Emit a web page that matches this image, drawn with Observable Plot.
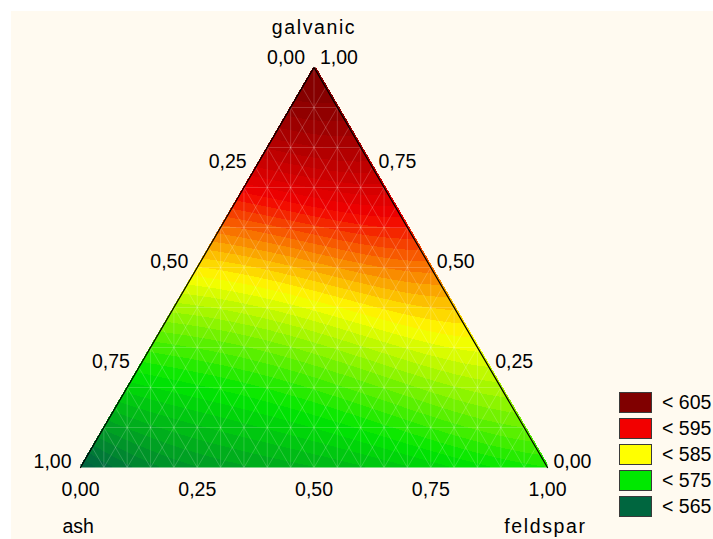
<!DOCTYPE html>
<html><head><meta charset="utf-8">
<script src="https://cdn.jsdelivr.net/npm/d3@7"></script>
<script src="https://cdn.jsdelivr.net/npm/@observablehq/plot@0.6"></script>
<style>
body{margin:0;background:#fff;font-family:"Liberation Sans",Arial,sans-serif;}
#wrap{position:relative;width:713px;height:539px;background:#fff;overflow:hidden}
#panel{position:absolute;left:11px;top:11px;width:702px;height:528px;background:#fffaf0}
#chart{position:absolute;left:0;top:0}
#legend{position:absolute;left:619px;top:392px}
.item{position:relative;height:26px;width:90px}
.sw{position:absolute;left:0;top:0;width:33px;height:21px;box-sizing:border-box;border:1px solid #3a3a3a}
.lab{position:absolute;left:43px;top:-1px;font-size:19.5px;line-height:22px;color:#000;white-space:nowrap}
</style></head>
<body><div id="wrap"><div id="panel"></div><div id="chart"></div><div id="legend"></div></div>
<script>
// ---- data: surface values read at the {4,4} simplex lattice (quarters of each component)
const latticeGalvanic = [4, 3, 3, 2, 2, 2, 1, 1, 1, 1, 0, 0, 0, 0, 0];
const latticeAsh      = [0, 1, 0, 2, 1, 0, 3, 2, 1, 0, 4, 3, 2, 1, 0];
const latticeFeldspar = [0, 0, 1, 0, 1, 2, 0, 1, 2, 3, 0, 1, 2, 3, 4];
const latticeValue    = [605,
                         598, 599.5,
                         586, 588.5, 590.5,
                         575.5, 577.5, 580.5, 583,
                         564, 569, 571, 573.5, 576];

const tickValues = [0, 0.25, 0.5, 0.75, 1];
const tickLabels = ["0,00", "0,25", "0,50", "0,75", "1,00"];

const legendLabels = ["< 605", "< 595", "< 585", "< 575", "< 565"];
const legendLevels = [605, 595, 585, 575, 565];
const legendColors = ["#800000", "#f20000", "#ffff00", "#00e800", "#00663f"];

const componentNames = ["galvanic", "ash", "feldspar"];
// corners of the simplex (galvanic, ash, feldspar) in outline order
const cornerGalvanic = [0, 1, 0];
const cornerAsh      = [1, 0, 0];
const cornerFeldspar = [0, 0, 1];

// ---- helpers
const ORDER = 4;
const toX = (g, f) => f + g / 2;
function ell(m, t) { let p = 1; for (let k = 0; k < m; k++) p *= (ORDER * t - k) / (k + 1); return p; }
function surface(g, a, f) {
  let s = 0;
  for (let i = 0; i < latticeValue.length; i++)
    s += latticeValue[i] * ell(latticeGalvanic[i], g) * ell(latticeAsh[i], a) * ell(latticeFeldspar[i], f);
  return s;
}
function field(x, y) {
  const g = y, f = x - g / 2, a = 1 - g - f;
  if (g < -0.003 || f < -0.003 || a < -0.003) return NaN;
  return Math.floor(surface(g, a, f)) + 0.5;
}

// outline (left and right edges)
const outline = cornerGalvanic.map((g, i) => ({x: toX(g, cornerFeldspar[i]), y: g}));

// faint rendering mesh
const mesh = [];
const N = 20;
for (let k = 1; k < N; k++) {
  const t = k / N;
  mesh.push({x1: t, y1: 0, x2: t, y2: 2 * Math.min(t, 1 - t)});
  mesh.push({x1: t, y1: 0, x2: t + (1 - t) / 2, y2: 1 - t});
  mesh.push({x1: 1 - t, y1: 0, x2: (1 - t) / 2, y2: 1 - t});
}
for (let k = 1; k < 10; k++) {
  const g = k / 10;
  mesh.push({x1: g / 2, y1: g, x2: 1 - g / 2, y2: g});
}

const font = '"Liberation Sans", Arial, sans-serif';
const lbl = (t, i) => tickLabels[i];

const chart = Plot.plot({
  width: 713, height: 539,
  marginLeft: 80, marginRight: 166, marginTop: 67, marginBottom: 72,
  x: {domain: [0, 1], axis: null},
  y: {domain: [0, 1], axis: null},
  color: {type: "linear", domain: legendLevels.slice().reverse(), range: legendColors.slice().reverse(), clamp: true},
  style: {background: "transparent", fontFamily: font, fontSize: "19.5px", color: "#000"},
  marks: [
    Plot.raster({fill: field, x1: 0, y1: 0, x2: 1, y2: 1, pixelSize: 1, imageRendering: "pixelated"}),
    Plot.link(mesh, {x1: "x1", y1: "y1", x2: "x2", y2: "y2", stroke: "#ffffff", strokeOpacity: 0.24, strokeWidth: 0.8}),
    Plot.line(outline, {x: "x", y: "y", stroke: "#000", strokeWidth: 1.2}),
    // left edge: ash
    Plot.text(tickValues, {filter: t => t > 0, x: t => (1 - t) / 2, y: t => 1 - t, text: lbl, textAnchor: "end", dx: -9, dy: -6, fill: "#000"}),
    Plot.text(tickValues, {filter: t => t === 0, x: t => (1 - t) / 2, y: t => 1 - t, text: lbl, textAnchor: "end", dx: -9, dy: -10, fill: "#000"}),
    // right edge: galvanic
    Plot.text(tickValues, {filter: t => t < 1, x: t => 1 - t / 2, y: t => t, text: lbl, textAnchor: "start", dx: 6, dy: -6, fill: "#000"}),
    Plot.text(tickValues, {filter: t => t === 1, x: t => 1 - t / 2, y: t => t, text: lbl, textAnchor: "start", dx: 6, dy: -10, fill: "#000"}),
    // bottom edge: feldspar
    Plot.text(tickValues, {x: t => t, y: 0, text: lbl, textAnchor: "middle", dy: 22, fill: "#000"}),
    // component titles
    Plot.text([componentNames[0]], {x: 0.5, y: 1, text: d => d, textAnchor: "middle", lineAnchor: "bottom", dy: -34, fill: "#000"}),
    Plot.text([componentNames[1]], {x: 0, y: 0, text: d => d, textAnchor: "start", lineAnchor: "bottom", dx: -18, dy: 65, fill: "#000"}),
    Plot.text([componentNames[2]], {x: 1, y: 0, text: d => d, textAnchor: "end", lineAnchor: "bottom", dx: 39, dy: 65, fill: "#000"})
  ]
});
document.getElementById("chart").appendChild(chart);
// wider letter spacing on the two long component titles (as in the original rendering)
d3.select(chart).selectAll("text")
  .filter(function () { return this.textContent === componentNames[0] || this.textContent === componentNames[2]; })
  .style("letter-spacing", "1.6px");

const legend = document.getElementById("legend");
legendLabels.forEach((lab, i) => {
  const item = document.createElement("div");
  item.className = "item";
  item.innerHTML = `<div class="sw" style="background:${legendColors[i]}"></div><div class="lab">${lab}</div>`;
  legend.appendChild(item);
});
</script>
</body></html>
